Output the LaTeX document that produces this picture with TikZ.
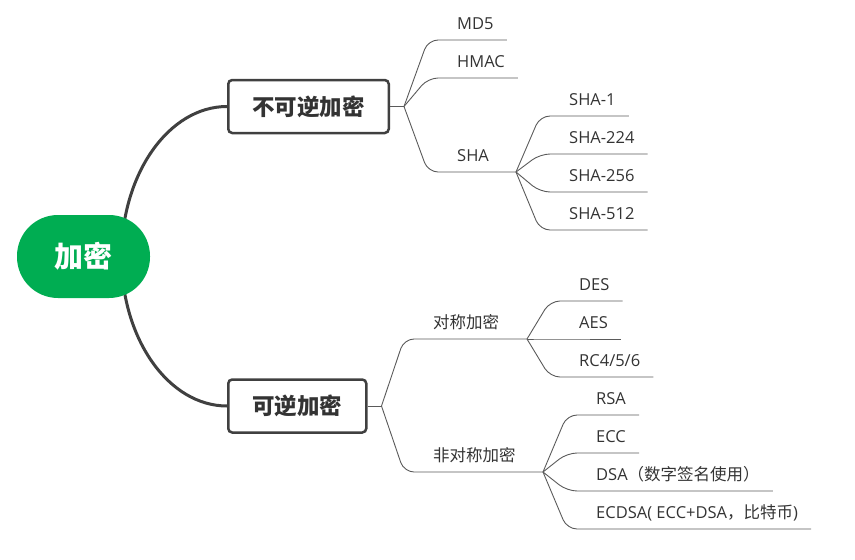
\documentclass[tikz,border=0pt]{standalone}
\usepackage{fontspec}
\setmainfont{Open Sans}
\newfontfamily\cjk{Noto Sans CJK SC}
\usetikzlibrary{backgrounds}
\definecolor{rootgreen}{RGB}{0,173,82}
\definecolor{linegray}{RGB}{64,64,64}
\definecolor{twiggray}{RGB}{90,90,90}
\definecolor{txtgray}{RGB}{51,51,51}
\tikzset{
  rootnode/.style={fill=rootgreen, rounded corners=41pt, minimum width=133pt, minimum height=83pt,
    text=white, font=\cjk\bfseries\fontsize{29}{29}\selectfont},
  topic/.style={draw=linegray, line width=2.5pt, rounded corners=4pt, fill=white, inner xsep=24pt,
    minimum height=53pt, anchor=west, text=txtgray, font=\cjk\bfseries\fontsize{22.5}{22.5}\selectfont},
  leaf/.style={anchor=south west, inner xsep=0pt, inner ysep=10pt, text depth=0pt,
    text=txtgray, font=\fontsize{16.5}{16.5}\selectfont},
  trunk/.style={draw=linegray, line width=3pt},
  twig/.style={draw=twiggray, line width=0.9pt, rounded corners=10pt},
}
\begin{document}
\begin{tikzpicture}[x=1pt, y=-1pt]
\useasboundingbox (0,0) rectangle (855,560);
% root and the two main topics
\node[rootnode] (root) at (83.5,256.5) {加密};
\node[topic] (irr) at (227,106.5) {不可逆加密};
\node[topic] (rev) at (227,406) {可逆加密};
\coordinate (hub) at ([xshift=38pt]root.center);
\begin{scope}[on background layer]
  \draw[trunk] (hub) .. controls +(0,-83) and +(-58,0) .. (irr.west);
  \draw[trunk] (hub) .. controls +(0,83) and +(-58,0) .. (rev.west);
\end{scope}
% branch points
\coordinate (b1) at ([xshift=14pt]irr.east);
\coordinate (b2) at (516,172);
\coordinate (b3) at ([xshift=14pt]rev.east);
\coordinate (b4) at (527,339);
\coordinate (b5) at (543,472);
\draw[twig] (irr.east) -- (b1);
\draw[twig] (rev.east) -- (b3);
% leaves
\node[leaf] (md5) at (457,40) {MD5};
\node[leaf] (hmac) at (457,78) {HMAC};
\node[leaf] (sha) at (457,172) {SHA};
\node[leaf] (sha1) at (569,116) {SHA-1};
\node[leaf] (sha224) at (569,154) {SHA-224};
\node[leaf] (sha256) at (569,192) {SHA-256};
\node[leaf] (sha512) at (569,230) {SHA-512};
\node[leaf] (sym) at (433,339) {\cjk 对称加密};
\node[leaf] (des) at (579,301) {DES};
\node[leaf] (aes) at (579,339) {AES};
\node[leaf] (rc) at (579,377) {RC4/5/6};
\node[leaf] (asym) at (433,472) {\cjk 非对称加密};
\node[leaf] (rsa) at (596,415) {RSA};
\node[leaf] (ecc) at (596,453) {ECC};
\node[leaf] (dsa) at (596,491) {DSA{\cjk （数字签名使用）}};
\node[leaf] (ecdsa) at (596,529) {ECDSA( ECC+DSA{\cjk ，比特币})};
% connectors
\draw[twig] (b1) -- ([xshift=-29pt]md5.south west) -- ([xshift=13pt]md5.south east);
\draw[twig] (b1) -- ([xshift=-29pt]hmac.south west) -- ([xshift=13pt]hmac.south east);
\draw[twig] (b1) -- ([xshift=-29pt]sha.south west) -- (b2);
\draw[twig] (b2) -- ([xshift=-29pt]sha1.south west) -- ([xshift=13pt]sha1.south east);
\draw[twig] (b2) -- ([xshift=-29pt]sha224.south west) -- ([xshift=13pt]sha224.south east);
\draw[twig] (b2) -- ([xshift=-29pt]sha256.south west) -- ([xshift=13pt]sha256.south east);
\draw[twig] (b2) -- ([xshift=-29pt]sha512.south west) -- ([xshift=13pt]sha512.south east);
\draw[twig] (b3) -- ([xshift=-29pt]sym.south west) -- (b4);
\draw[twig] (b4) -- ([xshift=-29pt]des.south west) -- ([xshift=13pt]des.south east);
\draw[twig] (b4) -- ([xshift=-29pt]aes.south west) -- ([xshift=13pt]aes.south east);
\draw[twig] (b4) -- ([xshift=-29pt]rc.south west) -- ([xshift=13pt]rc.south east);
\draw[twig] (b3) -- ([xshift=-29pt]asym.south west) -- (b5);
\draw[twig] (b5) -- ([xshift=-29pt]rsa.south west) -- ([xshift=13pt]rsa.south east);
\draw[twig] (b5) -- ([xshift=-29pt]ecc.south west) -- ([xshift=13pt]ecc.south east);
\draw[twig] (b5) -- ([xshift=-29pt]dsa.south west) -- ([xshift=13pt]dsa.south east);
\draw[twig] (b5) -- ([xshift=-29pt]ecdsa.south west) -- ([xshift=13pt]ecdsa.south east);
\end{tikzpicture}
\end{document}
